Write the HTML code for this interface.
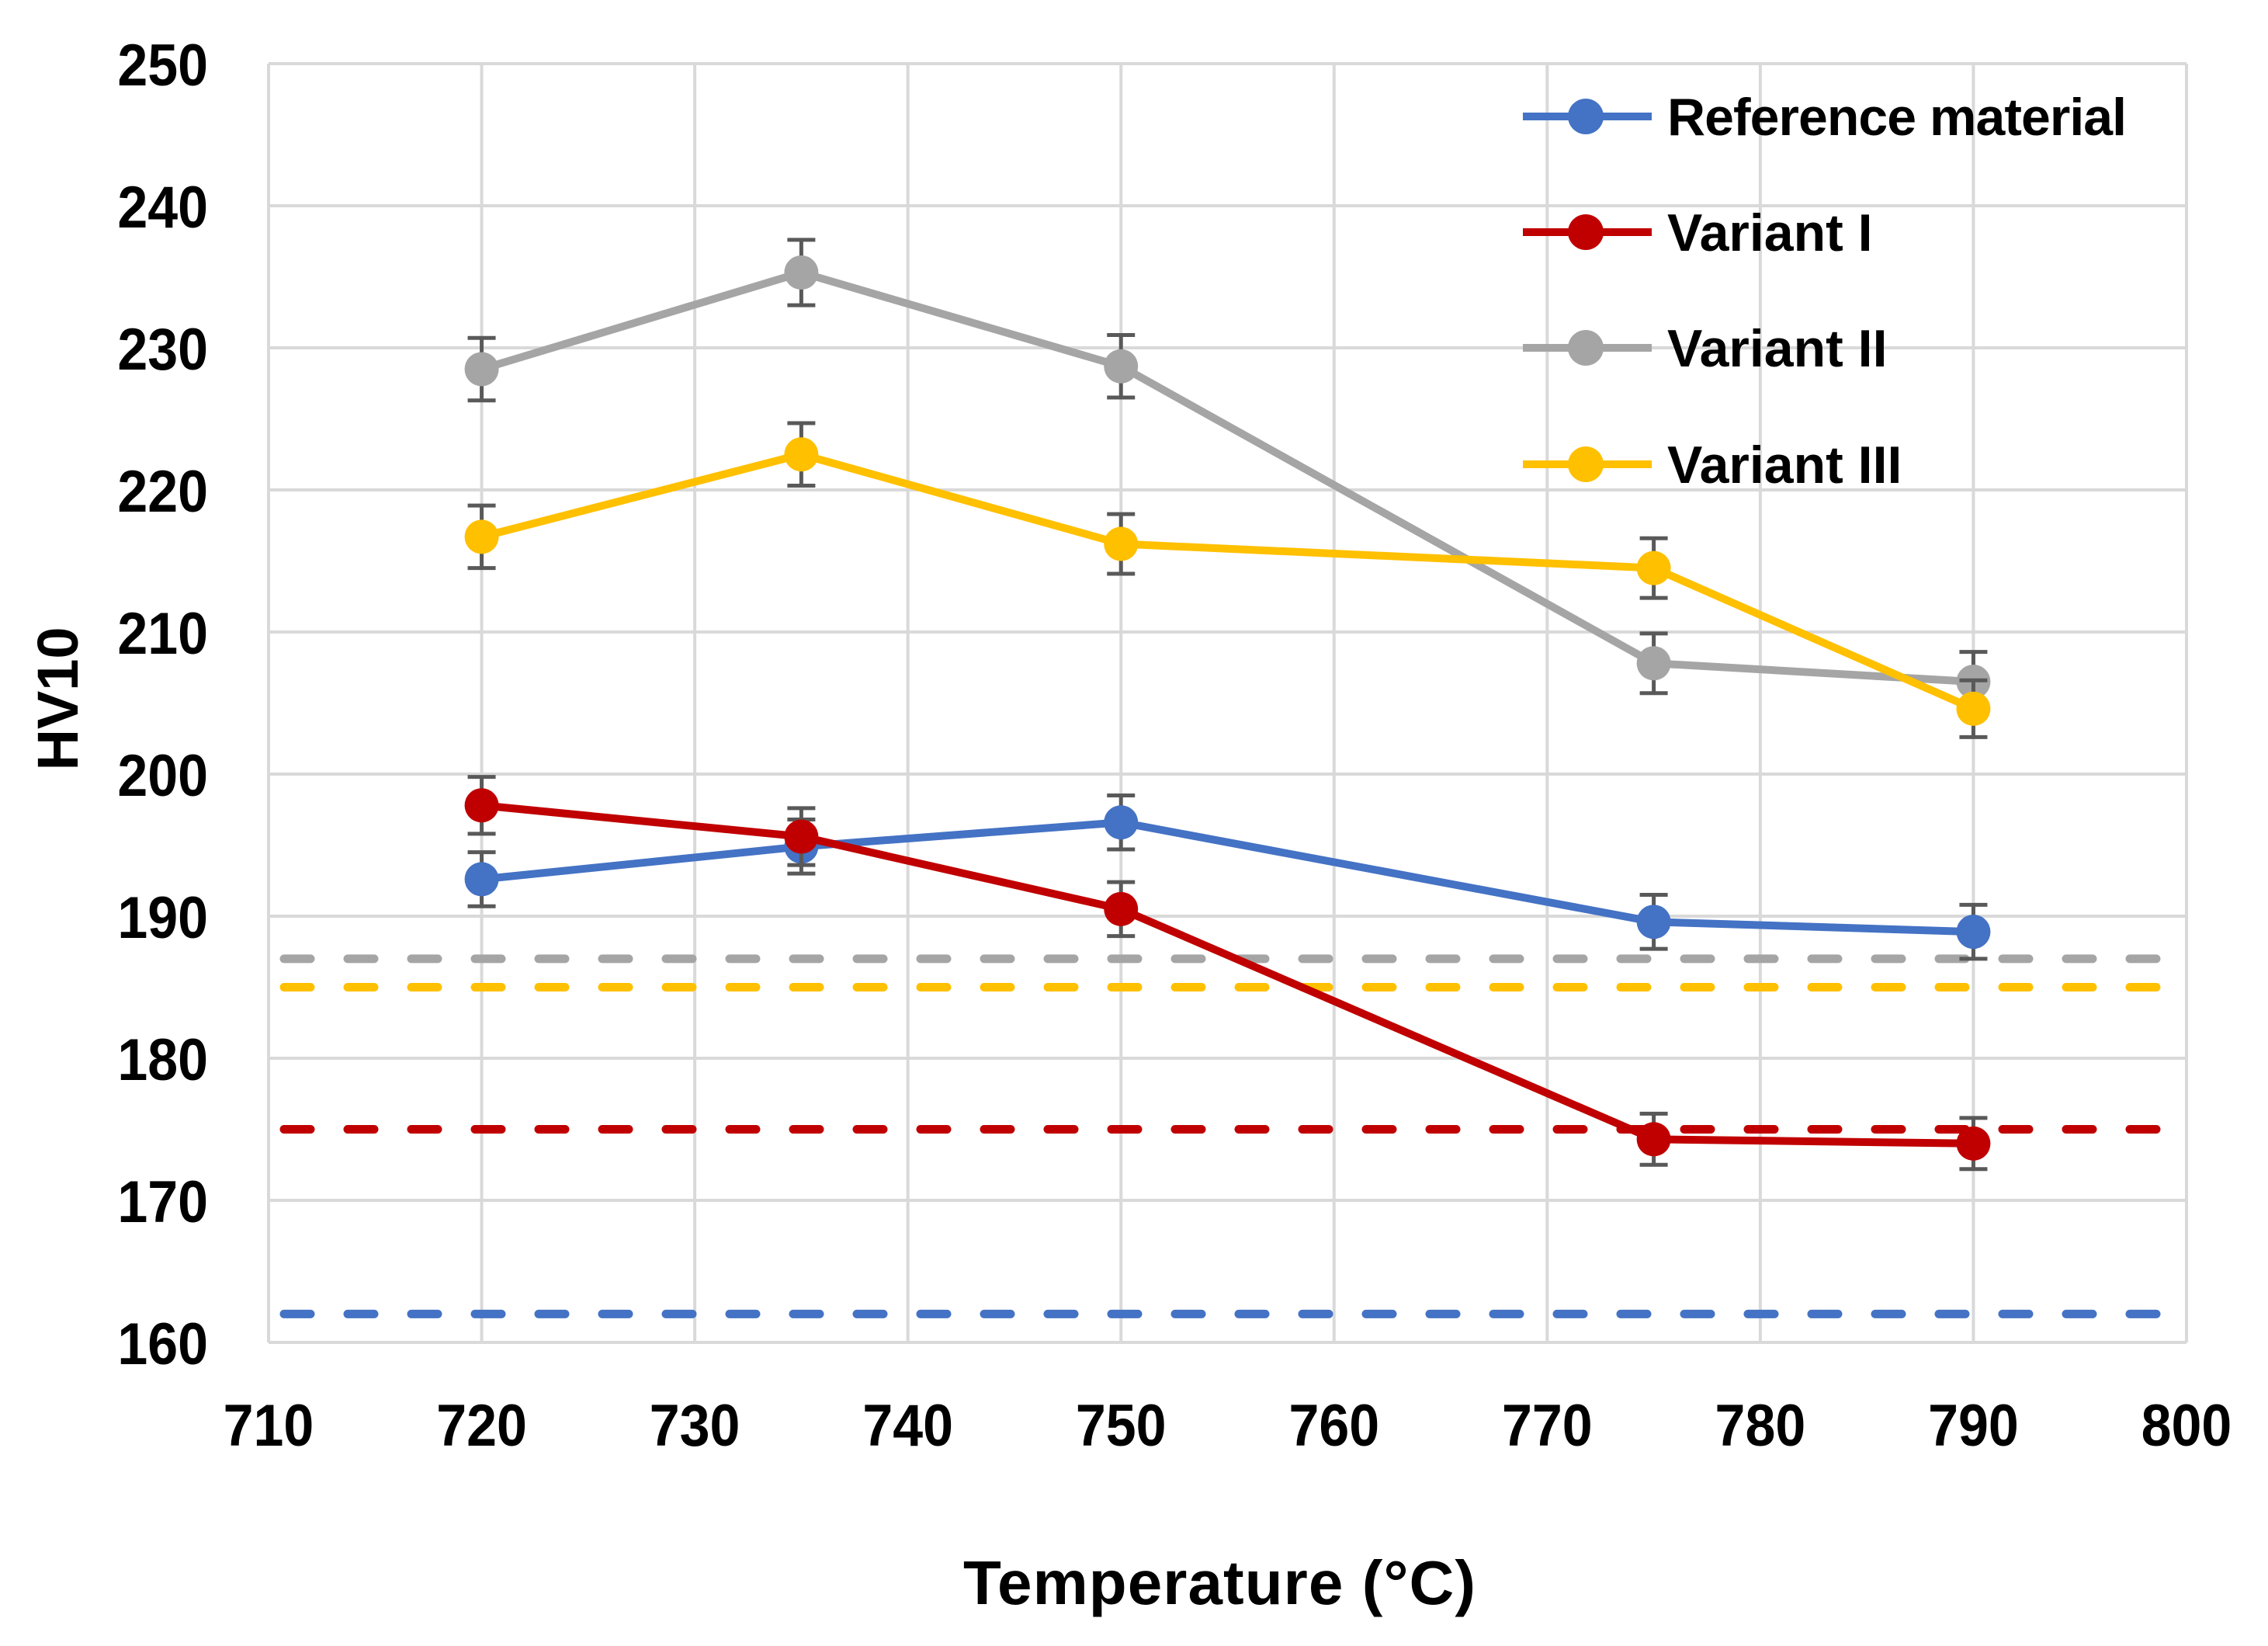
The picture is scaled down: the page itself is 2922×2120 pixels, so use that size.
<!DOCTYPE html>
<html><head><meta charset="utf-8"><style>
html,body{margin:0;padding:0;background:#fff;}
svg{display:block;font-family:"Liberation Sans",sans-serif;font-weight:bold;}
</style></head><body>
<svg id="chart" width="2922" height="2120" viewBox="0 0 2922 2120">
<g id="grid"></g><g id="refs"></g><g id="series"></g><g id="axes"></g><g id="legend"></g>
</svg>
<script>
const temps = [720, 735, 750, 775, 790];
const refMaterial = [192.6, 194.9, 196.6, 189.6, 188.9];
const variantI = [197.8, 195.6, 190.5, 174.3, 174.0];
const variantII = [228.5, 235.3, 228.7, 207.8, 206.5];
const variantIII = [216.7, 222.5, 216.2, 214.5, 204.6];
const errRef = [1.9, 1.9, 1.9, 1.9, 1.9];
const errI = [2.0, 2.0, 1.9, 1.8, 1.8];
const errII = [2.2, 2.3, 2.2, 2.1, 2.1];
const errIII = [2.2, 2.2, 2.1, 2.1, 2.0];
const refLevels = [162, 175, 187, 185];
const xTicks = [710, 720, 730, 740, 750, 760, 770, 780, 790, 800];
const yTicks = [160, 170, 180, 190, 200, 210, 220, 230, 240, 250];
const seriesNames = ["Reference material", "Variant I", "Variant II", "Variant III"];

const NS = "http://www.w3.org/2000/svg";
const L = 346, R = 2817, T = 82, B = 1729;
const xs = v => L + (v - 710) / 90 * (R - L);
const ys = v => B - (v - 160) / 90 * (B - T);
const colors = ["#4472c4", "#c00000", "#a5a5a5", "#ffc000"];
function mk(tag, attrs, parent) {
  const e = document.createElementNS(NS, tag);
  for (const k in attrs) e.setAttribute(k, attrs[k]);
  parent.appendChild(e);
  return e;
}
const grid = document.getElementById('grid');
xTicks.forEach(t => {
  const l = mk('line', {x1: xs(t), x2: xs(t), y1: T, y2: B, stroke: '#d9d9d9', 'stroke-width': 4}, grid);
  
  
});
yTicks.forEach(t => {
  const l = mk('line', {x1: L, x2: R, y1: ys(t), y2: ys(t), stroke: '#d9d9d9', 'stroke-width': 4}, grid);
  
  
});
const axes = document.getElementById('axes');
xTicks.forEach(t => {
  const tx = mk('text', {x: xs(t), y: 1862, 'text-anchor': 'middle', 'font-size': 76, fill: '#000', transform: `translate(${xs(t)},0) scale(0.92,1) translate(${-xs(t)},0)`}, axes);
  tx.textContent = t;
  
  
});
yTicks.forEach(t => {
  const tx = mk('text', {x: 268, y: ys(t) + 28, 'text-anchor': 'end', 'font-size': 76, fill: '#000', transform: 'translate(268,0) scale(0.92,1) translate(-268,0)'}, axes);
  tx.textContent = t;
  
  
});
const xt = mk('text', {x: 1571, y: 2066, 'text-anchor': 'middle', 'font-size': 80, fill: '#000', textLength: 660}, axes);
xt.textContent = 'Temperature (°C)';


const yt = mk('text', {x: 0, y: 0, 'text-anchor': 'middle', 'font-size': 74, fill: '#000', transform: 'translate(100,900) rotate(-90)'}, axes);
yt.textContent = 'HV10';



const refs = document.getElementById('refs');
refLevels.forEach((v, i) => {
  const l = mk('line', {x1: L + 20, x2: R, y1: ys(v), y2: ys(v), stroke: colors[i], 'stroke-width': 11, 'stroke-dasharray': '34 48', 'stroke-linecap': 'round'}, refs);
  
  
});

const series = document.getElementById('series');
const data = [refMaterial, variantI, variantII, variantIII];
const errs = [errRef, errI, errII, errIII];
data.forEach((vals, si) => {
  const g = mk('g', {}, series);
  
  
  const pts = vals.map((v, i) => xs(temps[i]) + ',' + ys(v)).join(' ');
  const pl = mk('polyline', {points: pts, fill: 'none', stroke: colors[si], 'stroke-width': 10, 'stroke-linejoin': 'round'}, g);
  
  
  vals.forEach((v, i) => {
    const x = xs(temps[i]), e = errs[si][i];
    const y1 = ys(v + e), y2 = ys(v - e);
    const eb = mk('path', {d: `M${x},${y1}V${y2}M${x-18},${y1}H${x+18}M${x-18},${y2}H${x+18}`, stroke: '#595959', 'stroke-width': 5, fill: 'none'}, g);
    
    
    const c = mk('circle', {cx: x, cy: ys(v), r: 22, fill: colors[si]}, g);
    
    
  });
});

const legend = document.getElementById('legend');
const rowsY = [150, 299, 448, 598];
seriesNames.forEach((n, i) => {
  const g = mk('g', {}, legend);
  
  
  mk('line', {x1: 1962, x2: 2128, y1: rowsY[i], y2: rowsY[i], stroke: colors[i], 'stroke-width': 10}, g);
  mk('circle', {cx: 2043, cy: rowsY[i], r: 23, fill: colors[i]}, g);
  const t = mk('text', {x: 2148, y: rowsY[i] + 24, 'font-size': 68, fill: '#000'}, g);
  t.textContent = n;
  if (i === 0) t.setAttribute('textLength', 592);
});
</script>
</body></html>
